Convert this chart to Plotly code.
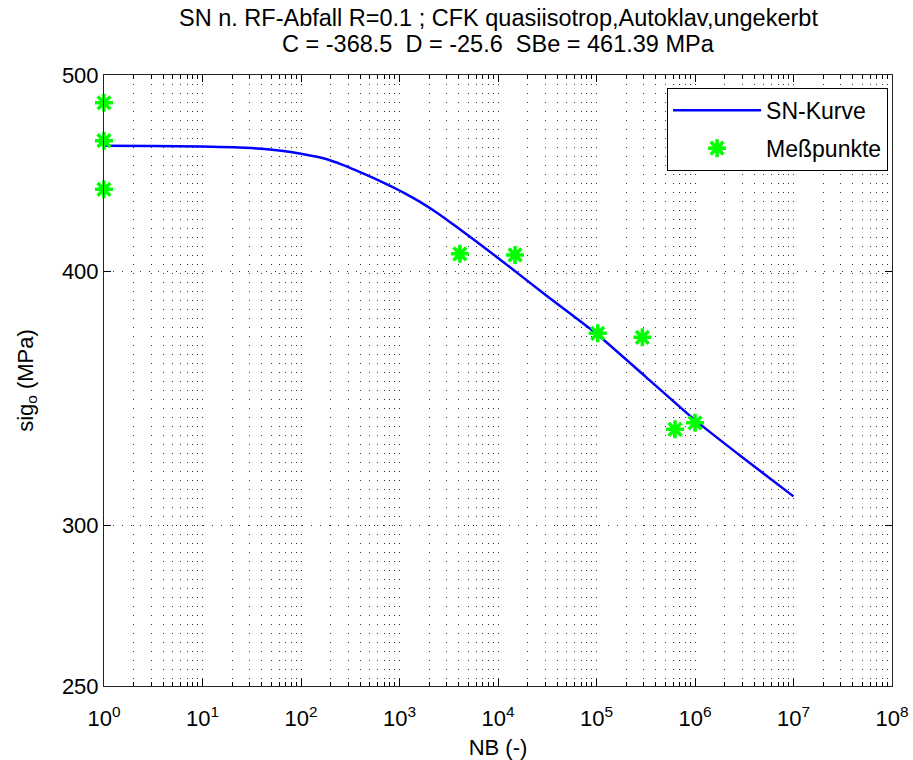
import plotly.graph_objects as go

# SN curve (cycles to failure NB vs. upper stress sig_o)
n_curve = [1, 3.16, 10, 31.6, 63.1, 100, 141, 200, 282, 398, 562, 794, 1122,
           1585, 2239, 3162, 4467, 6310, 1.0e4, 3.162e4, 1.0e5, 3.162e5,
           1.0e6, 3.162e6, 1.0e7]
sig_curve = [461.4, 461.3, 461.0, 460.2, 458.8, 457.3, 455.8, 453.8, 451.0,
             447.8, 444.5, 441.0, 437.3, 433.2, 428.6, 423.6, 418.4, 413.2,
             406.3, 389.0, 372.8, 355.0, 338.0, 323.5, 310.0]

# measured points
n_meas = [1, 1, 1, 4100, 14900, 1.03e5, 2.92e5, 6.27e5, 1.0e6]
sig_meas = [484.5, 464.1, 439.2, 408.2, 407.7, 373.0, 371.3, 334.5, 337.0]

# axis ticks
x_exponents = list(range(0, 9))
x_minor_mult = [2, 3, 4, 5, 6, 7, 8, 9]
y_ticks = [250, 300, 400, 500]

title_lines = ["SN n. RF-Abfall R=0.1 ; CFK quasiisotrop,Autoklav,ungekerbt",
               "C = -368.5 &nbsp;D = -25.6 &nbsp;SBe = 461.39 MPa"]

FONT = "Liberation Sans, Arial, sans-serif"
FS = 22

x_tickvals = [10 ** e for e in x_exponents]
x_ticktext = [f"10<sup>{e}</sup>" for e in x_exponents]
x_minor = [m * 10 ** e for e in x_exponents[:-1] for m in x_minor_mult]

fig = go.Figure()
fig.add_trace(go.Scatter(
    x=n_curve, y=sig_curve, mode="lines", name="SN-Kurve",
    line=dict(color="#0000FF", width=2.5, shape="spline", smoothing=0.5),
    legendgroup="a",
))
fig.add_trace(go.Scatter(
    x=n_meas, y=sig_meas, mode="markers", name="Meßpunkte",
    marker=dict(symbol="asterisk-open", size=15, color="#00FF00",
                line=dict(color="#00FF00", width=3.5)),
    legendgroup="b", cliponaxis=False,
))

# two-line title above the axes
for text, ypix in zip(title_lines, [18, 44]):
    fig.add_annotation(text=text, xref="paper", x=0.5, xanchor="center",
                       yref="paper", y=1 + (75 - ypix) / 611, yanchor="middle",
                       showarrow=False, font=dict(family=FONT, size=23.5))

grid_dash = "1px,8px"
fig.update_layout(
    width=913, height=760,
    margin=dict(l=104, r=21, t=75, b=74, autoexpand=False),
    paper_bgcolor="white", plot_bgcolor="white",
    font=dict(family=FONT, size=FS, color="black"),
    showlegend=True,
    legend=dict(x=0.995, xanchor="right", y=0.979, yanchor="top",
                bgcolor="white", bordercolor="black", borderwidth=1,
                font=dict(family=FONT, size=23), tracegroupgap=5,
                itemwidth=88),
    xaxis=dict(
        type="log", range=[0, 8], automargin=False,
        tickmode="array", tickvals=x_tickvals, ticktext=x_ticktext,
        ticks="inside", ticklen=7, tickwidth=1, tickcolor="black",
        ticklabelstandoff=13,
        showline=True, linecolor="#222", linewidth=1, mirror="ticks",
        showgrid=True, gridcolor="#333", gridwidth=1, griddash=grid_dash,
        zeroline=False,
        minor=dict(tickmode="array", tickvals=x_minor, ticks="inside",
                   ticklen=4, tickcolor="black", showgrid=True,
                   gridcolor="#333", gridwidth=1, griddash=grid_dash),
        title=dict(text="NB (-)", standoff=10, font=dict(family=FONT, size=FS)),
        tickfont=dict(family=FONT, size=FS),
    ),
    yaxis=dict(
        type="log", range=[2.397940, 2.698970], automargin=False,
        tickmode="array", tickvals=y_ticks, ticktext=[str(v) for v in y_ticks],
        ticks="inside", ticklen=7, tickwidth=1, tickcolor="black",
        showline=True, linecolor="#222", linewidth=1, mirror="ticks",
        showgrid=True, gridcolor="#333", gridwidth=1, griddash=grid_dash,
        zeroline=False,
        title=dict(text="sig<sub>o</sub> (MPa)", standoff=22,
                   font=dict(family=FONT, size=FS)),
        tickfont=dict(family=FONT, size=FS),
    ),
)

fig.write_html("out.html")
